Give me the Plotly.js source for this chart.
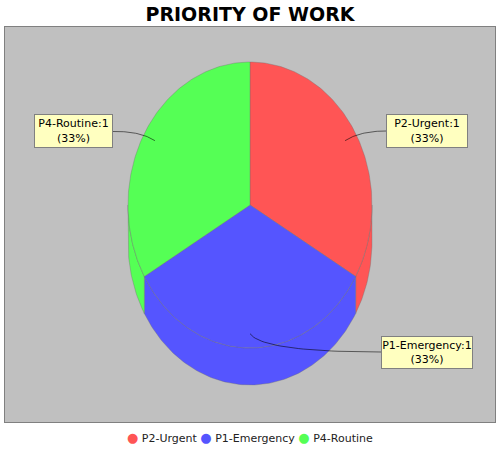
<!DOCTYPE html>
<html>
<head>
<meta charset="utf-8">
<script src="https://cdn.plot.ly/plotly-3.0.1.min.js"></script>
<style>html,body{margin:0;padding:0;background:#fff;}#chart{width:500px;height:450px;}</style>
</head>
<body>
<div id="chart"></div>
<script>
// ---- data ----
const categories = ['P2-Urgent', 'P1-Emergency', 'P4-Routine'];
const values = [1, 1, 1];
const colors = ['#ff5555', '#5555ff', '#55ff55'];
const chartTitle = 'PRIORITY OF WORK';

// ---- geometry / style (pixel-like data units on the plot axes) ----
const PIE = {cx: 250, cy: 205, rx: 122, ry: 143, depth: 37, linkDepth: 0.9};
const LABELS = [
  {cx: 427, cy: 131, w: 80, h: 32, endX: 386, endY: 131, ctrlX: 360, ctrlY: 131},
  {cx: 427, cy: 352.5, w: 90, h: 31, endX: 381, endY: 352, ctrlX: 263, ctrlY: 352},
  {cx: 73.5, cy: 131, w: 77, h: 32, endX: 113, endY: 131.5, ctrlX: 140, ctrlY: 131}
];

const total = values.reduce((a, b) => a + b, 0);
const rad = d => d * Math.PI / 180;
function pt(theta, dz) {
  return [PIE.cx + PIE.rx * Math.sin(rad(theta)), PIE.cy - PIE.ry * Math.cos(rad(theta)) + (dz || 0)];
}
function arc(a0, a1, dz) {
  const pts = [];
  const n = Math.max(2, Math.ceil(Math.abs(a1 - a0)));
  for (let k = 0; k <= n; k++) pts.push(pt(a0 + (a1 - a0) * k / n, dz));
  return pts;
}

// slice angles (clockwise from 12 o'clock)
let cum = 0;
const slices = values.map((v, i) => {
  const a0 = cum / total * 360;
  cum += v;
  const a1 = cum / total * 360;
  return {a0, a1, i};
});

const traces = [];
const outline = 'rgba(110,110,110,0.7)';
// side walls (visible for the front half: 90..270 deg)
slices.forEach(s => {
  const lo = Math.max(s.a0, 90), hi = Math.min(s.a1, 270);
  if (hi <= lo) return;
  const top = arc(lo, hi, 0);
  const bot = arc(hi, lo, PIE.depth);
  const poly = top.concat(bot);
  poly.push(top[0]);
  traces.push({
    type: 'scatter', mode: 'lines', fill: 'toself',
    x: poly.map(p => p[0]), y: poly.map(p => p[1]),
    fillcolor: colors[s.i], line: {color: outline, width: 0.5},
    hoverinfo: 'skip', showlegend: false
  });
});
// top faces
slices.forEach(s => {
  const poly = [[PIE.cx, PIE.cy]].concat(arc(s.a0, s.a1, 0));
  poly.push([PIE.cx, PIE.cy]);
  traces.push({
    type: 'scatter', mode: 'lines', fill: 'toself',
    x: poly.map(p => p[0]), y: poly.map(p => p[1]),
    fillcolor: colors[s.i], line: {color: outline, width: 0.5},
    name: categories[s.i], hoverinfo: 'name', showlegend: false
  });
});
// label link lines (quadratic curves from the slice anchor to the label box)
slices.forEach(s => {
  const mid = (s.a0 + s.a1) / 2;
  const ax = PIE.cx + PIE.rx * PIE.linkDepth * Math.sin(rad(mid));
  const ay = PIE.cy - PIE.ry * PIE.linkDepth * Math.cos(rad(mid));
  const L = LABELS[s.i];
  const xs = [], ys = [];
  for (let k = 0; k <= 30; k++) {
    const t = k / 30, u = 1 - t;
    xs.push(u * u * ax + 2 * u * t * L.ctrlX + t * t * L.endX);
    ys.push(u * u * ay + 2 * u * t * L.ctrlY + t * t * L.endY);
  }
  traces.push({
    type: 'scatter', mode: 'lines', x: xs, y: ys,
    line: {color: 'rgba(0,0,0,0.55)', width: 1},
    hoverinfo: 'skip', showlegend: false
  });
});

const annotations = slices.map(s => {
  const L = LABELS[s.i];
  const pct = Math.round(values[s.i] / total * 100);
  return {
    xref: 'x', yref: 'y', x: L.cx, y: L.cy, showarrow: false,
    text: categories[s.i] + ':' + values[s.i] + '<br>(' + pct + '%)',
    width: L.w, height: L.h, align: 'center', valign: 'middle',
    bgcolor: '#ffffc0', bordercolor: '#808080', borderwidth: 1, borderpad: 0,
    font: {family: 'DejaVu Sans, sans-serif', size: 11, color: '#000'}
  };
});
// legend row
annotations.push({
  xref: 'paper', yref: 'paper', x: 0.5, y: -0.0405, xanchor: 'center', yanchor: 'middle',
  showarrow: false,
  text: categories.map((c, i) => '<span style="color:' + colors[i] + ';font-size:13px">\u25CF</span> ' + c).join(' '),
  font: {family: 'DejaVu Sans, sans-serif', size: 11, color: '#222'}
});

const layout = {
  width: 500, height: 450,
  margin: {l: 5, r: 5, t: 27, b: 28, pad: 0},
  paper_bgcolor: '#ffffff', plot_bgcolor: '#c0c0c0',
  title: {
    text: '<b>' + chartTitle + '</b>', x: 0.5, xanchor: 'center',
    yref: 'container', y: 0.968, yanchor: 'middle',
    font: {family: 'DejaVu Sans, sans-serif', size: 19, color: '#000'}
  },
  xaxis: {range: [5, 495], showgrid: false, zeroline: false, showticklabels: false, ticks: '',
          showline: true, mirror: true, linecolor: '#808080', linewidth: 1, fixedrange: true},
  yaxis: {range: [422, 27], showgrid: false, zeroline: false, showticklabels: false, ticks: '',
          showline: true, mirror: true, linecolor: '#808080', linewidth: 1, fixedrange: true},
  showlegend: false,
  annotations: annotations
};

Plotly.newPlot('chart', traces, layout, {displayModeBar: false, staticPlot: true});
</script>
</body>
</html>
